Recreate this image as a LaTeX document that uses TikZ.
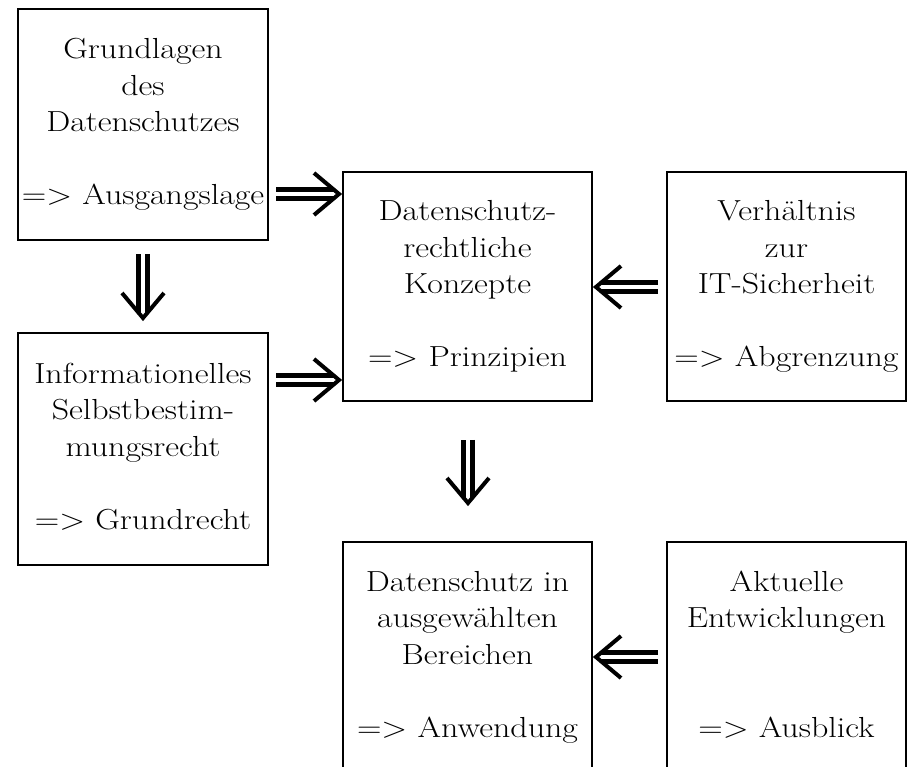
\documentclass[tikz,border=0pt]{standalone}
\usepackage{fontspec}
\setmainfont{lmroman17-regular}[Extension=.otf, FakeStretch=1.17]
\usetikzlibrary{calc,decorations.markings}
\tikzset{
  box/.style={draw, line width=2pt, inner sep=0pt, align=center,
    font=\fontsize{29}{36.5}\selectfont},
  dline/.style={draw, double, double distance=4pt, line width=4.6pt, shorten >=5pt},
  chev/.style={postaction={decorate}, decoration={markings,
    mark=at position 1 with {\draw[line width=4pt, miter limit=20] (-25pt,21pt) -- (0pt,0pt) -- (-25pt,-21pt);}}}
}
\begin{document}
\begin{tikzpicture}[x=1pt,y=-1pt]
\useasboundingbox (0,0) rectangle (914,767);
\clip (0,0) rectangle (914,767);
\node[box, minimum width=250, minimum height=231] (b1) at (143,124.5)
  {\strut Grundlagen\\des\\Datenschutzes\\\mbox{}\\=> Ausgangslage\strut};
\node[box, minimum width=250, minimum height=232] (b2) at (143,449)
  {\strut Informationelles\\Selbstbestim-\\mungsrecht\\\mbox{}\\=> Grundrecht\strut};
\node[box, minimum width=249, minimum height=229] (b3) at (467.5,286.5)
  {\strut Datenschutz-\\rechtliche\\Konzepte\\\mbox{}\\=> Prinzipien\strut};
\node[box, minimum width=239, minimum height=229] (b4) at (786.5,286.5)
  {\strut Verhältnis\\zur\\IT-Sicherheit\\\mbox{}\\=> Abgrenzung\strut};
\node[box, minimum width=249, minimum height=230] (b5) at (467.5,657)
  {\strut Datenschutz in\\ausgewählten\\Bereichen\\\mbox{}\\=> Anwendung\strut};
\node[box, minimum width=239, minimum height=230] (b6) at (786.5,657)
  {\strut Aktuelle\\Entwicklungen\\\mbox{}\\\mbox{}\\=> Ausblick\strut};
% connectors
\coordinate (a1s) at ($(b1.east |- 0,194)+(7,0)$);
\coordinate (a1t) at ($(b3.west |- 0,194)+(-3,0)$);
\coordinate (a2s) at ($(b1.south)+(0,13)$);
\coordinate (a2t) at ($(b2.north)+(0,-14)$);
\coordinate (a3s) at ($(b2.east |- 0,380)+(7,0)$);
\coordinate (a3t) at ($(b3.west |- 0,380)+(-3,0)$);
\coordinate (a4s) at ($(b4.west |- 0,287)+(-8,0)$);
\coordinate (a4t) at ($(b3.east |- 0,287)+(3,0)$);
\coordinate (a5s) at ($(b3.south)+(0.5,38)$);
\coordinate (a5t) at ($(b5.north)+(0.5,-38)$);
\coordinate (a6s) at ($(b6.west |- 0,657)+(-8,0)$);
\coordinate (a6t) at ($(b5.east |- 0,657)+(3,0)$);
\foreach \s/\t in {a1s/a1t, a2s/a2t, a3s/a3t, a4s/a4t, a5s/a5t, a6s/a6t}{
  \draw[dline] (\s) -- (\t);
  \path[chev] (\s) -- (\t);
}
\end{tikzpicture}
\end{document}
